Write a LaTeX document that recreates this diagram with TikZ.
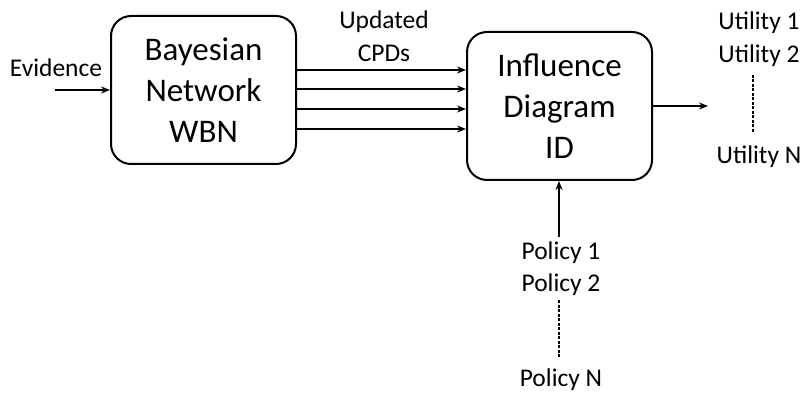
\documentclass[tikz,border=0pt]{standalone}
\usepackage{fontspec}
\setmainfont{Carlito}
\usetikzlibrary{arrows.meta}
\begin{document}
\begin{tikzpicture}[x=1pt,y=-1pt,
  box/.style={draw,line width=2pt,rounded corners=20pt,minimum width=185pt,minimum height=148pt,inner sep=0pt,
    align=center,font=\fontsize{33}{41}\selectfont},
  lbl/.style={inner sep=0pt,font=\fontsize{25.5}{31}\selectfont},
  arr/.style={line width=1.7pt,-{Stealth[length=9pt,width=7pt]}},
  dsh/.style={line width=1.5pt,dash pattern=on 3pt off 1.5pt}]
\useasboundingbox (0,0) rectangle (801,393);
\node[box] (bn) at (203.5,90) {Bayesian\\Network\\WBN};
\node[box] (id) at (559.5,106) {Influence\\Diagram\\ID};
\node[lbl] (ev) at (56,68) {Evidence};
\coordinate (evs) at (55,90);
\draw[arr] (evs) -- (bn.west |- evs);
\node[lbl,align=center,font=\fontsize{25.5}{33}\selectfont] (cpd) at (384,36) {Updated\\CPDs};
\foreach \y in {70,89,109,129}{
  \draw[arr] (bn.east |- 0,\y) -- (id.west |- 0,\y);
}
\coordinate (out) at (708,106);
\draw[arr] (id.east |- out) -- (out);
\node[lbl] (u1) at (759,23) {Utility 1};
\node[lbl] (u2) at (759,56) {Utility 2};
\node[lbl] (un) at (759,157) {Utility N};
\coordinate (ua) at (753,75);
\coordinate (ub) at (753,132);
\draw[dsh] (ua) -- (ub);
\node[lbl] (p1) at (561,253) {Policy 1};
\node[lbl] (p2) at (561,285) {Policy 2};
\node[lbl] (pn) at (561,380) {Policy N};
\coordinate (pa) at (559,237);
\draw[arr] (pa) -- (id.south -| pa);
\coordinate (pd1) at (559,300);
\coordinate (pd2) at (559,358);
\draw[dsh] (pd1) -- (pd2);
\end{tikzpicture}
\end{document}
